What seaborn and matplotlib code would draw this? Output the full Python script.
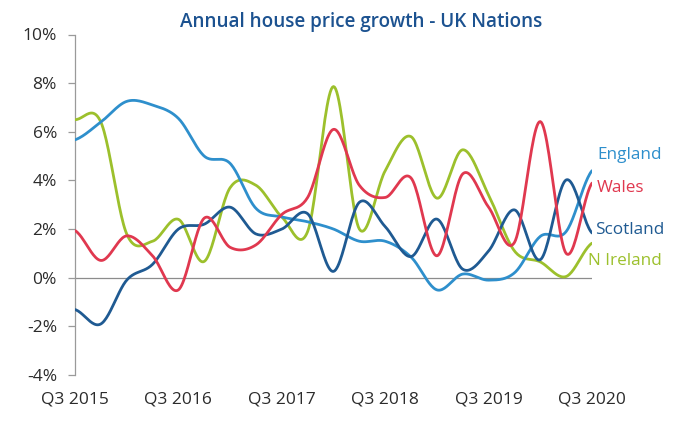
import numpy as np
import pandas as pd
import seaborn as sns
import matplotlib.pyplot as plt

# ---- data (quarterly, Q3 2015 .. Q3 2020) ----
quarters = ["Q3 2015", "Q4 2015", "Q1 2016", "Q2 2016", "Q3 2016", "Q4 2016",
            "Q1 2017", "Q2 2017", "Q3 2017", "Q4 2017", "Q1 2018", "Q2 2018",
            "Q3 2018", "Q4 2018", "Q1 2019", "Q2 2019", "Q3 2019", "Q4 2019",
            "Q1 2020", "Q2 2020", "Q3 2020"]
tick_labels = ["Q3 2015", "Q3 2016", "Q3 2017", "Q3 2018", "Q3 2019", "Q3 2020"]

england = [5.67, 6.4, 7.25, 7.1, 6.55, 5.0, 4.7, 2.85, 2.5, 2.3, 2.0, 1.5,
           1.5, 0.85, -0.5, 0.15, -0.1, 0.2, 1.7, 1.9, 4.4]
wales = [1.94, 0.71, 1.72, 0.9, -0.5, 2.45, 1.25, 1.35, 2.6, 3.3, 6.1, 3.8,
         3.3, 4.1, 0.9, 4.27, 2.9, 1.45, 6.42, 1.0, 3.89]
scotland = [-1.31, -1.9, -0.1, 0.55, 2.0, 2.2, 2.9, 1.8, 2.0, 2.63, 0.26, 3.1,
            2.1, 0.87, 2.41, 0.35, 1.1, 2.79, 0.74, 4.02, 1.84]
n_ireland = [6.5, 6.4, 1.8, 1.5, 2.4, 0.67, 3.7, 3.8, 2.5, 1.9, 7.86, 2.0,
             4.4, 5.8, 3.27, 5.26, 3.4, 1.1, 0.65, 0.05, 1.42]

series = {"England": england, "Wales": wales, "Scotland": scotland, "N Ireland": n_ireland}
colors = {"England": "#2e8fcc", "Wales": "#e0384f", "Scotland": "#1f5a92", "N Ireland": "#9cc02c"}


def smooth(vals, n=24):
    """Catmull-Rom style smoothing (like a spreadsheet 'smoothed line')."""
    y = np.asarray(vals, dtype=float)
    yp = np.concatenate([[y[0]], y, [y[-1]]])
    xs, ys = [], []
    for i in range(len(y) - 1):
        p0, p1, p2, p3 = yp[i], yp[i + 1], yp[i + 2], yp[i + 3]
        m1 = (p2 - p0) / 2.0
        m2 = (p3 - p1) / 2.0
        t = np.linspace(0, 1, n, endpoint=False)
        h00 = 2 * t**3 - 3 * t**2 + 1
        h10 = t**3 - 2 * t**2 + t
        h01 = -2 * t**3 + 3 * t**2
        h11 = t**3 - t**2
        xs.append(i + t)
        ys.append(h00 * p1 + h10 * m1 + h01 * p2 + h11 * m2)
    xs.append([len(y) - 1])
    ys.append([y[-1]])
    return np.concatenate(xs), np.concatenate(ys)


frames = []
for name, vals in series.items():
    xd, yd = smooth(vals)
    frames.append(pd.DataFrame({"x": xd, "value": yd, "nation": name}))
df = pd.concat(frames, ignore_index=True)

sns.set_style("white")
plt.rcParams["font.family"] = ["Open Sans", "DejaVu Sans"]

fig = plt.figure(figsize=(6.79, 4.30), dpi=100)
ax = fig.add_axes([75 / 679, 1 - 375 / 430, (592 - 75) / 679, (375 - 34.5) / 430])

ax.axhline(0, color="#8c8c8c", linewidth=0.9, zorder=1)
sns.lineplot(data=df, x="x", y="value", hue="nation", palette=colors,
             hue_order=["N Ireland", "England", "Scotland", "Wales"],
             linewidth=2.0, legend=False, sort=False, ax=ax, zorder=3)

ax.set_xlim(0, 20)
ax.set_ylim(-4, 10)
ax.set_yticks(range(-4, 11, 2))
ax.set_yticklabels([f"{v}%" for v in range(-4, 11, 2)], fontsize=12.5, color="#2b2b2b")
ax.set_xticks([quarters.index(q) for q in tick_labels])
ax.set_xticklabels(tick_labels, fontsize=12.5, color="#2b2b2b")
ax.tick_params(axis="y", length=5, width=0.9, color="#9a9a9a", pad=8, direction="out", left=True)
ax.tick_params(axis="x", length=0, pad=12)
ax.set_xlabel("")
ax.set_ylabel("")

for s in ["top", "right", "bottom"]:
    ax.spines[s].set_visible(False)
ax.spines["left"].set_color("#9a9a9a")
ax.spines["left"].set_linewidth(0.9)

# right-hand labels
label_pos = {"England": (20.2, 5.05), "Wales": (20.2, 3.7), "Scotland": (20.1, 1.95), "N Ireland": (19.85, 0.7)}
for name, (lx, ly) in label_pos.items():
    ax.text(lx, ly, name, color=colors[name], fontsize=12.3, va="center", ha="left", clip_on=False)

fig.text(361 / 679, 1 - 22 / 430, "Annual house price growth - UK Nations",
         ha="center", va="center", fontsize=13.6, color="#1c5290", fontweight="semibold")

fig.savefig("out.png", dpi=100, facecolor="white")
